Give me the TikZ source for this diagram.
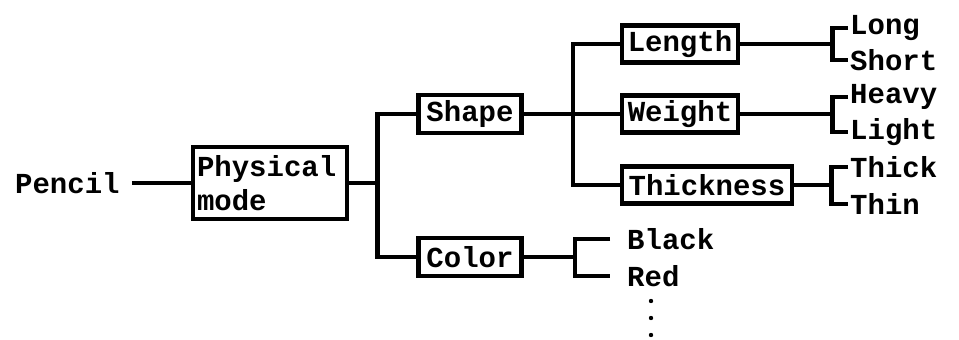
\documentclass[tikz,border=0pt]{standalone}
\usepackage{fontspec}
\setmonofont{Liberation Mono}
\usetikzlibrary{positioning}
\tikzset{
box/.style={
draw,
line width=4.5pt,
minimum height=38pt,
inner xsep=6pt,
inner ysep=0pt,
align=left,
font=\ttfamily\bfseries\fontsize{29}{34}\selectfont
},
word/.style={
inner xsep=2pt,
inner ysep=0pt,
anchor=west,
font=\ttfamily\bfseries\fontsize{29}{34}\selectfont
},
link/.style={
line width=4.5pt
}
}

\begin{document}
\begin{tikzpicture}[x=1pt,y=-1pt]
\useasboundingbox (0,0) rectangle (959,340);

% root and first split
\node[word,inner xsep=12pt] (pencil) at (3,183) {Pencil};
\node[box,minimum width=154pt,minimum height=72pt,inner xsep=4pt,text width=146pt] (phys) at (270,183) {Physical\\mode};
\node[box,minimum width=103pt] (shape) at (470,114) {Shape};
\node[box,minimum width=103pt] (color) at (470,257) {Color};

% shape attributes
\node[box,minimum width=115pt,minimum height=37pt] (length) at (680,44) {Length};
\node[box,minimum width=115pt,minimum height=37pt] (weight) at (680,114) {Weight};
\node[box,minimum width=170pt,minimum height=37pt] (thick) at (707,185) {Thickness};

% values
\node[word] (long) at (848,28) {Long};
\node[word] (short) at (848,60) {Short};
\node[word] (heavy) at (848,97) {Heavy};
\node[word] (light) at (848,132) {Light};
\node[word] (thickv) at (848,167) {Thick};
\node[word] (thin) at (848,204) {Thin};
\node[word,inner xsep=17pt] (black) at (610,239) {Black};
\node[word,inner xsep=17pt] (red) at (610,276) {Red};

% more colours below Red
\foreach \y in {301,318,335}
  \fill (651,\y) circle (2.2pt);

% branch points
\coordinate (f1) at ([xshift=28pt]phys.east);
\coordinate (f2) at ([xshift=49pt]shape.east);
\coordinate (f3) at ([xshift=51pt]color.east);
\coordinate (f4) at ([xshift=92pt]length.east);
\coordinate (f5) at ([xshift=92pt]weight.east);
\coordinate (f6) at ([xshift=37pt]thick.east);

\draw[link] (pencil) -- (phys);
\draw[link] (phys.east) -- (f1);
\draw[link] (shape.west) -| (f1) |- (color.west);

\draw[link] (shape.east) -- (f2);
\draw[link] (length.west) -| (f2) |- (thick.west);
\draw[link] (f2) -- (weight.west);

\draw[link] (color.east) -- (f3);
\draw[link] (black.west) -| (f3) |- (red.west);

\draw[link] (length.east) -- (f4);
\draw[link] (long.west) -| (f4) |- (short.west);
\draw[link] (weight.east) -- (f5);
\draw[link] (heavy.west) -| (f5) |- (light.west);
\draw[link] (thick.east) -- (f6);
\draw[link] (thickv.west) -| (f6) |- (thin.west);
\end{tikzpicture}
\end{document}
